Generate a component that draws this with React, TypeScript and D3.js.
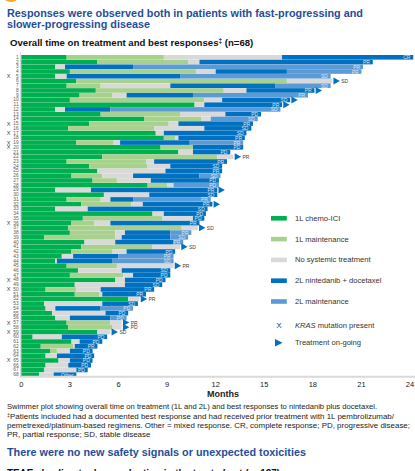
import React from "react";
import * as d3 from "d3";

const patients = [
  1, 2, 3, 4, 5, 6, 7, 8, 9, 10, 11, 12, 13, 14, 15, 16, 17, 18, 19, 20,
  21, 22, 23, 24, 25, 26, 27, 28, 29, 30, 31, 32, 33, 34, 35, 36, 37, 38, 39, 40,
  41, 42, 43, 44, 45, 46, 47, 48, 49, 50, 51, 52, 53, 54, 55, 56, 57, 58, 59, 60,
  61, 62, 63, 64, 65, 66, 67, 68,
];

// months per segment
const chemoICI = [
  2.8, 4.7, 2.1, 3.0, 2.1, 3.4, 2.8, 4.6, 3.6, 3.0,
  10.7, 2.1, 4.9, 7.6, 4.2, 2.9, 8.3, 8.8, 3.4, 8.6,
  9.7, 5.0, 2.8, 4.2, 4.7, 3.1, 4.4, 7.8, 2.1, 5.1,
  2.8, 3.7, 2.1, 8.1, 3.8, 3.1, 2.9, 3.0, 1.4, 3.9,
  3.7, 3.1, 2.5, 2.1, 2.8, 3.5, 3.0, 5.8, 3.3, 1.5,
  3.3, 6.6, 1.4, 1.5, 1.9, 2.1, 2.8, 2.9, 4.7, 0.7,
  3.1, 1.2, 1.8, 1.5, 2.3, 1.5, 1.4, 1.1,
];
const maintenance1L = [
  6.0, 5.6, 0, 7.8, 0, 13.0, 2.1, 7.9, 2.0, 8.3,
  0, 0, 4.9, 3.5, 4.9, 5.3, 0, 0.7, 2.3, 2.0,
  0, 7.1, 4.9, 3.6, 0, 1.9, 1.5, 1.2, 0, 0,
  2.1, 3.1, 0, 0, 4.9, 1.4, 7.0, 2.8, 4.4, 0,
  4.4, 2.5, 0, 0, 3.1, 0, 3.3, 0, 0, 1.9,
  1.5, 0, 0, 0, 0, 0, 2.7, 2.7, 0, 0,
  0, 2.0, 0.4, 0, 0, 0, 0, 0,
];
const noTreatment = [
  7.3, 0.7, 0.6, 1.2, 0.7, 2.8, 4.3, 1.4, 0.9, 1.1,
  0.6, 0.6, 2.8, 0.6, 0.6, 3.1, 0.5, 0.2, 0.4, 0,
  0.9, 1.0, 0.5, 1.4, 4.2, 1.9, 2.1, 0.4, 2.2, 2.8,
  0.6, 0.7, 2.0, 0.7, 1.9, 1.0, 1.0, 0.6, 0.4, 1.9,
  1.7, 0.9, 0.7, 0.1, 3.5, 2.7, 0.6, 0.6, 3.1, 1.5,
  0.2, 0.7, 3.6, 0.6, 3.3, 0.9, 0.7, 0.6, 0.8, 1.8,
  0.5, 0.1, 0.8, 0.7, 0.7, 1.4, 2.0, 0.9,
];
const nintedanib = [
  8.1, 10.7, 4.2, 4.4, 7.0, 0, 6.5, 4.2, 4.1, 4.2,
  4.8, 2.8, 2.2, 0, 4.6, 2.9, 5.1, 4.1, 4.3, 3.1,
  2.3, 0, 4.5, 3.2, 3.5, 4.1, 4.2, 0, 7.8, 4.2,
  1.4, 4.3, 7.4, 2.6, 0.7, 5.5, 0, 2.8, 3.0, 3.6,
  0, 3.0, 2.8, 3.4, 0, 3.0, 2.3, 2.5, 2.3, 3.3,
  2.7, 0, 2.2, 2.8, 1.4, 2.5, 0, 0, 0, 2.8,
  1.4, 1.4, 1.4, 2.3, 1.4, 1.4, 0.7, 1.4,
];
const maintenance2L = [
  0, 0, 14.2, 4.6, 9.3, 0, 3.4, 0, 7.1, 0,
  0, 10.5, 0, 2.9, 0, 0, 0, 0, 3.3, 0,
  0, 0, 0, 0, 0, 1.3, 0, 2.8, 0, 0,
  4.8, 0, 0, 0, 0, 0, 0, 1.3, 1.1, 0.6,
  0, 0, 3.4, 3.8, 0, 0, 0, 0, 0, 0,
  0, 0, 0, 2.0, 0, 1.0, 0, 0, 0, 0,
  0, 0, 0, 0, 0, 0, 0, 0,
];
const bestResponse = [
  "CR", "PR", "PR", "PR", "SD", "SD", "SD", "PR", "PR", "SD",
  "PR", "SD", "PD", "SD", "PR", "SD", "SD", "PR", "PR", "PD",
  "PD", "PR", "PR", "SD", "PR", "SD", "PD", "PD", "PR", "SD",
  "PR", "PR", "SD", "PD", "PD", "PR", "SD", "PR", "SD", "PR",
  "SD", "PD", "PR", "SD", "PR", "SD", "PD", "PD", "SD", "PR",
  "PR", "PR", "SD", "PD", "PD", "PD", "PR", "PD", "SD", "PD",
  "PD", "PR", "PD", "PD", "PD", "PD", "PD", "Other",
];
const ongoingPatients = [6, 8, 10, 11, 22, 29, 32, 37, 41, 45, 52, 57, 58, 59];
const krasPatients = [5, 15, 17, 19, 20, 36, 48, 50, 57, 59, 65];
const xTicks = [0, 3, 6, 9, 12, 15, 18, 21, 24];

const seriesKeys = ["chemo", "maint1", "none", "nint", "maint2"];
const seriesLabels = [
  "1L chemo-ICI",
  "1L maintenance",
  "No systemic treatment",
  "2L nintedanib + docetaxel",
  "2L maintenance",
];
const seriesColors = ["#00B050", "#A9D18E", "#D9D9D9", "#0070C0", "#5B9BD5"];

const FONT = "'Liberation Sans', Arial, sans-serif";

export default function App() {
  const W = 415;
  const H = 471;
  const x = d3.scaleLinear().domain([0, 24]).range([21.3, 410]);
  const y = d3.scaleBand<number>().domain(patients).range([55, 377]).paddingInner(0.03);

  const table = patients.map((p, i) => ({
    patient: p,
    chemo: chemoICI[i],
    maint1: maintenance1L[i],
    none: noTreatment[i],
    nint: nintedanib[i],
    maint2: maintenance2L[i],
  }));
  const stacked = d3.stack<any>().keys(seriesKeys)(table);
  const totals = table.map((d) => d.chemo + d.maint1 + d.none + d.nint + d.maint2);
  const bh = y.bandwidth();

  return (
    <svg
      width={W}
      height={H}
      style={{ position: "absolute", left: 0, top: 0, background: "#fff" }}
      fontFamily={FONT}
    >
      <ellipse cx={11} cy={-3} rx={7} ry={5} fill="#F5A623" />
      <text x={7} y={16.5} fontSize={10.6} fontWeight="bold" fill="#1F4E9A" textLength={356} lengthAdjust="spacingAndGlyphs">
        Responses were observed both in patients with fast-progressing and
      </text>
      <text x={7} y={28} fontSize={10.6} fontWeight="bold" fill="#1F4E9A" textLength={143} lengthAdjust="spacingAndGlyphs">
        slower-progressing disease
      </text>
      <text x={10} y={46} fontSize={9.6} fontWeight="bold" fill="#111">
        <tspan>Overall time on treatment and best responses</tspan>
        <tspan fontSize={6.5} dy={-3}>‡</tspan>
        <tspan dy={3}> (n=68)</tspan>
      </text>

      {/* left axis line */}
      <line x1={20.6} x2={20.6} y1={52} y2={377} stroke="#D9D9D9" strokeWidth={1} />

      {/* bars */}
      {stacked.map((s, si) => (
        <g key={s.key} fill={seriesColors[si]}>
          {s.map((d, i) =>
            d[1] - d[0] > 0 ? (
              <rect
                key={i}
                x={x(d[0])}
                y={y(patients[i])}
                width={Math.max(0, x(d[1]) - x(d[0]))}
                height={bh}
              />
            ) : null
          )}
        </g>
      ))}

      {/* axis baseline */}
      <line x1={20} x2={415} y1={376.8} y2={376.8} stroke="#D9D9D9" strokeWidth={2} />

      {/* responses & arrows */}
      {patients.map((p, i) => {
        const end = x(totals[i]);
        const cy = (y(p) as number) + bh / 2;
        const ongoing = ongoingPatients.includes(p);
        const has2L = nintedanib[i] + maintenance2L[i] > 0;
        return (
          <g key={p}>
            {ongoing && (
              <path
                d={`M${end + 1.2},${cy - 3.5}L${end + 7.6},${cy}L${end + 1.2},${cy + 3.5}Z`}
                fill="#0070C0"
              />
            )}
            {has2L ? (
              <text x={end - 2.8} y={cy} fontSize={5} textAnchor="end" dominantBaseline="central" fill="#DCE6F4">
                {bestResponse[i]}
              </text>
            ) : (
              <text x={end + 9} y={cy} fontSize={5} textAnchor="start" dominantBaseline="central" fill="#404040">
                {bestResponse[i]}
              </text>
            )}
          </g>
        );
      })}

      {/* row labels */}
      {patients.map((p) => {
        const cy = (y(p) as number) + bh / 2;
        return (
          <g key={"l" + p}>
            <text x={18.6} y={cy} fontSize={4.8} textAnchor="end" dominantBaseline="central" fill="#595959">
              {p}
            </text>
            {krasPatients.includes(p) && (
              <text x={8.5} y={cy} fontSize={5.5} textAnchor="middle" dominantBaseline="central" fill="#404040">
                X
              </text>
            )}
          </g>
        );
      })}

      {/* x ticks */}
      {xTicks.map((t) => (
        <text key={t} x={x(t)} y={386.8} fontSize={7.5} textAnchor="middle" fill="#222">
          {t}
        </text>
      ))}
      <text x={207} y={397} fontSize={9} fontWeight="bold" fill="#222">
        Months
      </text>

      {/* legend */}
      {seriesLabels.map((lab, i) => {
        const cy = 218.3 + i * 20.8;
        return (
          <g key={lab}>
            <rect x={271} y={cy - 2.3} width={15.8} height={4.6} fill={seriesColors[i]} />
            <text x={295} y={cy} fontSize={7.6} dominantBaseline="central" fill="#333">
              {lab}
            </text>
          </g>
        );
      })}
      <text x={279} y={325} fontSize={7.6} textAnchor="middle" dominantBaseline="central" fill="#333">
        X
      </text>
      <text x={295} y={325} fontSize={7.6} dominantBaseline="central" fill="#333">
        <tspan fontStyle="italic">KRAS</tspan> mutation present
      </text>
      <path d="M275,339 L282.6,342.8 L275,346.6 Z" fill="#0070C0" />
      <text x={295} y={342.8} fontSize={7.6} dominantBaseline="central" fill="#333">
        Treatment on-going
      </text>

      {/* footnotes */}
      <text x={7} y={409} fontSize={7.3} fill="#222" textLength={370} lengthAdjust="spacingAndGlyphs">
        Swimmer plot showing overall time on treatment (1L and 2L) and best responses to nintedanib plus docetaxel.
      </text>
      <text x={7} y={418.5} fontSize={7.3} fill="#222" textLength={387} lengthAdjust="spacingAndGlyphs">
        <tspan fontSize={5} dy={-2}>‡</tspan>
        <tspan dy={2}>Patients included had a documented best response and had received prior treatment with 1L pembrolizumab/</tspan>
      </text>
      <text x={7} y={428} fontSize={7.3} fill="#222" textLength={403} lengthAdjust="spacingAndGlyphs">
        pemetrexed/platinum-based regimens. Other = mixed response. CR, complete response; PD, progressive disease;
      </text>
      <text x={7} y={437.3} fontSize={7.3} fill="#222" textLength={143.5} lengthAdjust="spacingAndGlyphs">
        PR, partial response; SD, stable disease
      </text>

      <text x={7} y={456} fontSize={10.6} fontWeight="bold" fill="#1F4E9A" textLength={299} lengthAdjust="spacingAndGlyphs">
        There were no new safety signals or unexpected toxicities
      </text>
      <text x={7} y={477} fontSize={10.6} fontWeight="bold" fill="#111" textLength={273} lengthAdjust="spacingAndGlyphs">
        TEAEs leading to dose reduction in the treated set (n=137)
      </text>
    </svg>
  );
}
